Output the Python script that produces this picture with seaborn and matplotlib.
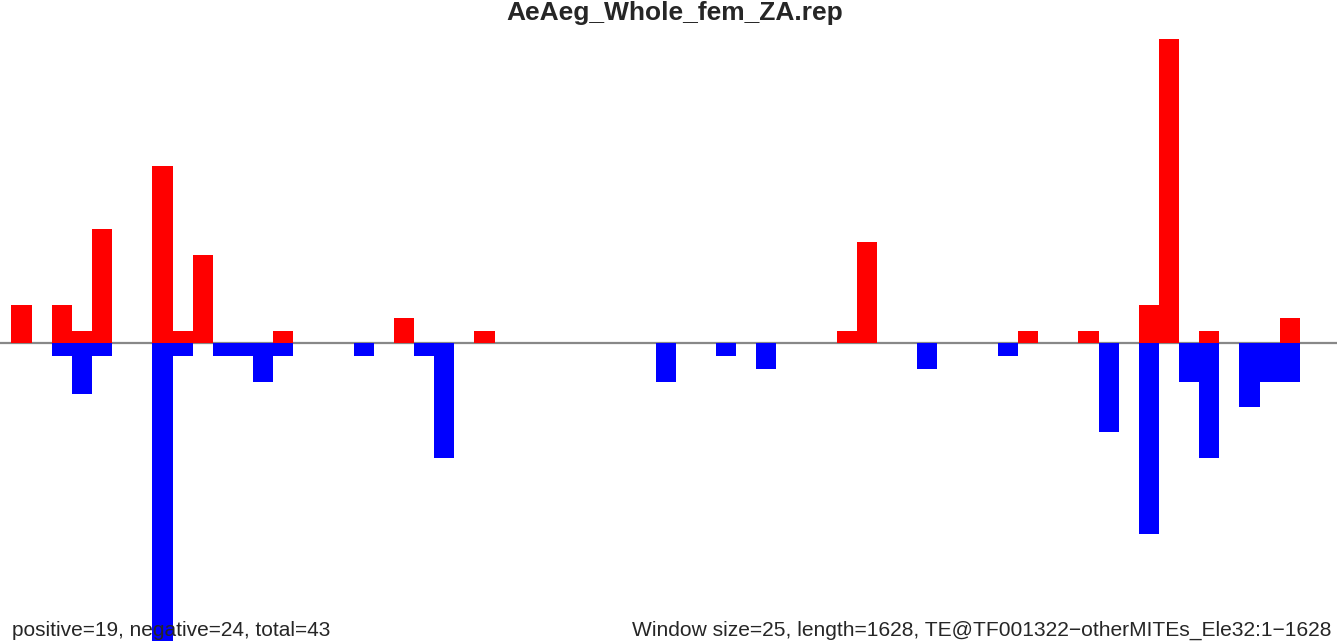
import numpy as np
import pandas as pd
import matplotlib
matplotlib.use("Agg")
import matplotlib.pyplot as plt
import seaborn as sns

# window index -> count (window size 25, length 1628 -> 66 windows)
n_windows = 66
pos_idx = [0, 2, 3, 4, 7, 8, 9, 13, 19, 23, 41, 42, 50, 53, 56, 57, 59, 63]
pos_val = [3, 3, 1, 9, 14, 1, 7, 1, 2, 1, 1, 8, 1, 1, 3, 24, 1, 2]
neg_idx = [2, 3, 4, 7, 8, 10, 11, 12, 13, 17, 20, 21, 32, 35, 37, 45, 49,
           54, 56, 58, 59, 61, 62, 63]
neg_val = [1, 4, 1, 24, 1, 1, 1, 3, 1, 1, 1, 9, 3, 1, 2, 2, 1,
           7, 15, 3, 9, 5, 3, 3]

title = "AeAeg_Whole_fem_ZA.rep"
left_note = "positive=19, negative=24, total=43"
right_note = "Window size=25, length=1628, TE@TF001322\u2212otherMITEs_Ele32:1\u22121628"

df = pd.DataFrame({"window": np.arange(n_windows), "plus": 0.0, "minus": 0.0})
df.loc[pos_idx, "plus"] = pos_val
df.loc[neg_idx, "minus"] = -np.array(neg_val, dtype=float)

sns.set_style("white")
plt.rcParams["font.family"] = ["Liberation Sans", "DejaVu Sans"]

W, H = 1337, 641
fig = plt.figure(figsize=(W / 100, H / 100), dpi=100)
ax = fig.add_axes([0, 0, 1, 1])

order = list(range(n_windows))
ax.axhline(0, color="#888888", lw=1.6, zorder=0.5)
sns.barplot(data=df, x="window", y="plus", order=order, color="#ff0000",
            saturation=1, width=1, linewidth=0, errorbar=None, ax=ax, zorder=2)
sns.barplot(data=df, x="window", y="minus", order=order, color="#0000ff",
            saturation=1, width=1, linewidth=0, errorbar=None, ax=ax, zorder=2)

# pixel mapping: bar i starts at 11.5 + 20.13*i px, zero line at 343.4 px, 12.7 px per unit
x0, step, unit, base = 11.5, 20.13, 12.7, 343.4
ax.set_xlim(-0.5 - x0 / step, -0.5 + (W - x0) / step)
ax.set_ylim(-(H - base) / unit, base / unit)
ax.axis("off")

fig.text(675 / W, 1 - 20 / H, title, ha="center", va="baseline",
         fontsize=19, fontweight="bold")
fig.text(12 / W, 1 - 636 / H, left_note, ha="left", va="baseline", fontsize=15)
fig.text(632 / W, 1 - 636 / H, right_note, ha="left", va="baseline", fontsize=15.1)

fig.savefig("out.png", dpi=100)
